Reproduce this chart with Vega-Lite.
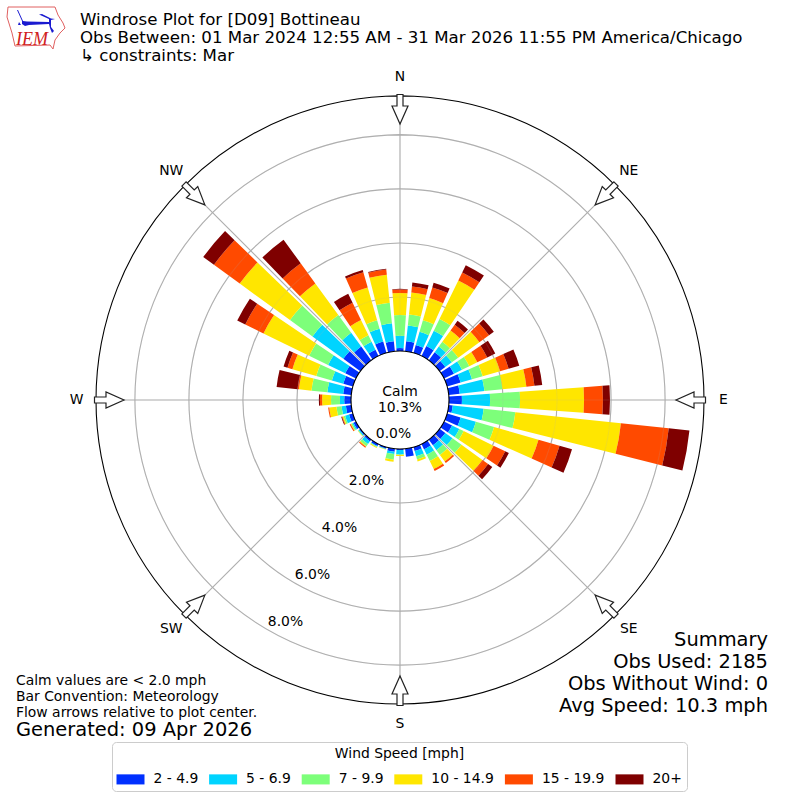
{
  "$schema": "https://vega.github.io/schema/vega-lite/v6.json",
  "width": 800,
  "height": 800,
  "padding": 0,
  "autosize": "none",
  "background": "white",
  "title": {
    "text": ["Windrose Plot for [D09] Bottineau", "Obs Between: 01 Mar 2024 12:55 AM - 31 Mar 2026 11:55 PM America/Chicago", "\u00a0↳ constraints: Mar"],
    "anchor": "start", "frame": "group", "dx": 80, "dy": 65, "offset": 0, "baseline": "top",
    "font": "DejaVu Sans", "fontSize": 16.65, "fontWeight": "normal", "lineHeight": 18, "color": "black"
  },
  "datasets": {
    "rings": [{"pct": 2}, {"pct": 4}, {"pct": 6}, {"pct": 8}],
    "compass": [
      {"dir": 0, "label": "N"}, {"dir": 45, "label": "NE"}, {"dir": 90, "label": "E"}, {"dir": 135, "label": "SE"},
      {"dir": 180, "label": "S"}, {"dir": 225, "label": "SW"}, {"dir": 270, "label": "W"}, {"dir": 315, "label": "NW"}
    ],
    "bars": [
      {"dir":0,"speed":"2 - 4.9","low":2,"pct":0.11},{"dir":0,"speed":"5 - 6.9","low":5,"pct":0.45},{"dir":0,"speed":"7 - 9.9","low":7,"pct":0.77},{"dir":0,"speed":"10 - 14.9","low":10,"pct":0.82},{"dir":0,"speed":"15 - 19.9","low":15,"pct":0.13},{"dir":0,"speed":"20+","low":20,"pct":0.02},
      {"dir":10,"speed":"2 - 4.9","low":2,"pct":0.37},{"dir":10,"speed":"5 - 6.9","low":5,"pct":0.59},{"dir":10,"speed":"7 - 9.9","low":7,"pct":0.41},{"dir":10,"speed":"10 - 14.9","low":10,"pct":0.82},{"dir":10,"speed":"15 - 19.9","low":15,"pct":0.22},{"dir":10,"speed":"20+","low":20,"pct":0.15},
      {"dir":20,"speed":"2 - 4.9","low":2,"pct":0.30},{"dir":20,"speed":"5 - 6.9","low":5,"pct":0.51},{"dir":20,"speed":"7 - 9.9","low":7,"pct":0.45},{"dir":20,"speed":"10 - 14.9","low":10,"pct":0.85},{"dir":20,"speed":"15 - 19.9","low":15,"pct":0.41},{"dir":20,"speed":"20+","low":20,"pct":0.18},
      {"dir":30,"speed":"2 - 4.9","low":2,"pct":0.41},{"dir":30,"speed":"5 - 6.9","low":5,"pct":0.63},{"dir":30,"speed":"7 - 9.9","low":7,"pct":0.48},{"dir":30,"speed":"10 - 14.9","low":10,"pct":1.59},{"dir":30,"speed":"15 - 19.9","low":15,"pct":0.33},{"dir":30,"speed":"20+","low":20,"pct":0.30},
      {"dir":40,"speed":"2 - 4.9","low":2,"pct":0.37},{"dir":40,"speed":"5 - 6.9","low":5,"pct":0.26},{"dir":40,"speed":"7 - 9.9","low":7,"pct":0.22},{"dir":40,"speed":"10 - 14.9","low":10,"pct":0.52},{"dir":40,"speed":"15 - 19.9","low":15,"pct":0.26},{"dir":40,"speed":"20+","low":20,"pct":0.18},
      {"dir":50,"speed":"2 - 4.9","low":2,"pct":0.26},{"dir":50,"speed":"5 - 6.9","low":5,"pct":0.30},{"dir":50,"speed":"7 - 9.9","low":7,"pct":0.29},{"dir":50,"speed":"10 - 14.9","low":10,"pct":0.97},{"dir":50,"speed":"15 - 19.9","low":15,"pct":0.44},{"dir":50,"speed":"20+","low":20,"pct":0.22},
      {"dir":60,"speed":"2 - 4.9","low":2,"pct":0.41},{"dir":60,"speed":"5 - 6.9","low":5,"pct":0.33},{"dir":60,"speed":"7 - 9.9","low":7,"pct":0.30},{"dir":60,"speed":"10 - 14.9","low":10,"pct":0.33},{"dir":60,"speed":"15 - 19.9","low":15,"pct":0.41},{"dir":60,"speed":"20+","low":20,"pct":0.33},
      {"dir":70,"speed":"2 - 4.9","low":2,"pct":0.52},{"dir":70,"speed":"5 - 6.9","low":5,"pct":0.44},{"dir":70,"speed":"7 - 9.9","low":7,"pct":0.41},{"dir":70,"speed":"10 - 14.9","low":10,"pct":0.67},{"dir":70,"speed":"15 - 19.9","low":15,"pct":0.33},{"dir":70,"speed":"20+","low":20,"pct":0.41},
      {"dir":80,"speed":"2 - 4.9","low":2,"pct":0.41},{"dir":80,"speed":"5 - 6.9","low":5,"pct":0.92},{"dir":80,"speed":"7 - 9.9","low":7,"pct":0.67},{"dir":80,"speed":"10 - 14.9","low":10,"pct":0.89},{"dir":80,"speed":"15 - 19.9","low":15,"pct":0.30},{"dir":80,"speed":"20+","low":20,"pct":0.29},
      {"dir":90,"speed":"2 - 4.9","low":2,"pct":0.48},{"dir":90,"speed":"5 - 6.9","low":5,"pct":1.04},{"dir":90,"speed":"7 - 9.9","low":7,"pct":1.11},{"dir":90,"speed":"10 - 14.9","low":10,"pct":2.37},{"dir":90,"speed":"15 - 19.9","low":15,"pct":0.70},{"dir":90,"speed":"20+","low":20,"pct":0.26},
      {"dir":100,"speed":"2 - 4.9","low":2,"pct":0.15},{"dir":100,"speed":"5 - 6.9","low":5,"pct":1.15},{"dir":100,"speed":"7 - 9.9","low":7,"pct":1.18},{"dir":100,"speed":"10 - 14.9","low":10,"pct":3.93},{"dir":100,"speed":"15 - 19.9","low":15,"pct":1.78},{"dir":100,"speed":"20+","low":20,"pct":0.77},
      {"dir":110,"speed":"2 - 4.9","low":2,"pct":0.52},{"dir":110,"speed":"5 - 6.9","low":5,"pct":0.59},{"dir":110,"speed":"7 - 9.9","low":7,"pct":0.70},{"dir":110,"speed":"10 - 14.9","low":10,"pct":1.71},{"dir":110,"speed":"15 - 19.9","low":15,"pct":0.81},{"dir":110,"speed":"20+","low":20,"pct":0.48},
      {"dir":120,"speed":"2 - 4.9","low":2,"pct":0.33},{"dir":120,"speed":"5 - 6.9","low":5,"pct":0.30},{"dir":120,"speed":"7 - 9.9","low":7,"pct":0.18},{"dir":120,"speed":"10 - 14.9","low":10,"pct":1.23},{"dir":120,"speed":"15 - 19.9","low":15,"pct":0.48},{"dir":120,"speed":"20+","low":20,"pct":0.15},
      {"dir":130,"speed":"2 - 4.9","low":2,"pct":0.26},{"dir":130,"speed":"5 - 6.9","low":5,"pct":0.33},{"dir":130,"speed":"7 - 9.9","low":7,"pct":0.41},{"dir":130,"speed":"10 - 14.9","low":10,"pct":0.96},{"dir":130,"speed":"15 - 19.9","low":15,"pct":0.26},{"dir":130,"speed":"20+","low":20,"pct":0.19},
      {"dir":140,"speed":"2 - 4.9","low":2,"pct":0.26},{"dir":140,"speed":"5 - 6.9","low":5,"pct":0.22},{"dir":140,"speed":"7 - 9.9","low":7,"pct":0.22},{"dir":140,"speed":"10 - 14.9","low":10,"pct":0.30},{"dir":140,"speed":"15 - 19.9","low":15,"pct":0.07},
      {"dir":150,"speed":"2 - 4.9","low":2,"pct":0.22},{"dir":150,"speed":"5 - 6.9","low":5,"pct":0.22},{"dir":150,"speed":"7 - 9.9","low":7,"pct":0.26},{"dir":150,"speed":"10 - 14.9","low":10,"pct":0.33},{"dir":150,"speed":"15 - 19.9","low":15,"pct":0.08},
      {"dir":160,"speed":"2 - 4.9","low":2,"pct":0.15},{"dir":160,"speed":"5 - 6.9","low":5,"pct":0.20},{"dir":160,"speed":"7 - 9.9","low":7,"pct":0.13},{"dir":160,"speed":"10 - 14.9","low":10,"pct":0.07},
      {"dir":170,"speed":"2 - 4.9","low":2,"pct":0.30},
      {"dir":180,"speed":"2 - 4.9","low":2,"pct":0.04},{"dir":180,"speed":"5 - 6.9","low":5,"pct":0.16},{"dir":180,"speed":"7 - 9.9","low":7,"pct":0.02},{"dir":180,"speed":"10 - 14.9","low":10,"pct":0.04},
      {"dir":190,"speed":"2 - 4.9","low":2,"pct":0.11},{"dir":190,"speed":"5 - 6.9","low":5,"pct":0.09},{"dir":190,"speed":"7 - 9.9","low":7,"pct":0.21},{"dir":190,"speed":"10 - 14.9","low":10,"pct":0.07},
      {"dir":200,"speed":"2 - 4.9","low":2,"pct":0.06},{"dir":200,"speed":"5 - 6.9","low":5,"pct":0.02},{"dir":200,"speed":"7 - 9.9","low":7,"pct":0.01},{"dir":200,"speed":"10 - 14.9","low":10,"pct":0.01},
      {"dir":210,"speed":"2 - 4.9","low":2,"pct":0.08},{"dir":210,"speed":"5 - 6.9","low":5,"pct":0.03},{"dir":210,"speed":"7 - 9.9","low":7,"pct":0.02},{"dir":210,"speed":"10 - 14.9","low":10,"pct":0.03},
      {"dir":220,"speed":"2 - 4.9","low":2,"pct":0.08},{"dir":220,"speed":"5 - 6.9","low":5,"pct":0.12},{"dir":220,"speed":"7 - 9.9","low":7,"pct":0.10},{"dir":220,"speed":"10 - 14.9","low":10,"pct":0.03},{"dir":220,"speed":"15 - 19.9","low":15,"pct":0.04},
      {"dir":230,"speed":"2 - 4.9","low":2,"pct":0.05},{"dir":230,"speed":"5 - 6.9","low":5,"pct":0.04},{"dir":230,"speed":"7 - 9.9","low":7,"pct":0.02},{"dir":230,"speed":"10 - 14.9","low":10,"pct":0.01},
      {"dir":240,"speed":"2 - 4.9","low":2,"pct":0.10},{"dir":240,"speed":"5 - 6.9","low":5,"pct":0.05},{"dir":240,"speed":"7 - 9.9","low":7,"pct":0.05},{"dir":240,"speed":"10 - 14.9","low":10,"pct":0.02},{"dir":240,"speed":"15 - 19.9","low":15,"pct":0.04},
      {"dir":250,"speed":"2 - 4.9","low":2,"pct":0.15},{"dir":250,"speed":"5 - 6.9","low":5,"pct":0.15},{"dir":250,"speed":"7 - 9.9","low":7,"pct":0.06},{"dir":250,"speed":"10 - 14.9","low":10,"pct":0.04},{"dir":250,"speed":"15 - 19.9","low":15,"pct":0.02},{"dir":250,"speed":"20+","low":20,"pct":0.03},
      {"dir":260,"speed":"2 - 4.9","low":2,"pct":0.20},{"dir":260,"speed":"5 - 6.9","low":5,"pct":0.16},{"dir":260,"speed":"7 - 9.9","low":7,"pct":0.19},{"dir":260,"speed":"10 - 14.9","low":10,"pct":0.27},{"dir":260,"speed":"15 - 19.9","low":15,"pct":0.04},
      {"dir":270,"speed":"2 - 4.9","low":2,"pct":0.25},{"dir":270,"speed":"5 - 6.9","low":5,"pct":0.16},{"dir":270,"speed":"7 - 9.9","low":7,"pct":0.33},{"dir":270,"speed":"10 - 14.9","low":10,"pct":0.33},{"dir":270,"speed":"15 - 19.9","low":15,"pct":0.08},{"dir":270,"speed":"20+","low":20,"pct":0.04},
      {"dir":280,"speed":"2 - 4.9","low":2,"pct":0.30},{"dir":280,"speed":"5 - 6.9","low":5,"pct":0.59},{"dir":280,"speed":"7 - 9.9","low":7,"pct":0.59},{"dir":280,"speed":"10 - 14.9","low":10,"pct":0.47},{"dir":280,"speed":"15 - 19.9","low":15,"pct":0.05},{"dir":280,"speed":"20+","low":20,"pct":0.78},
      {"dir":290,"speed":"2 - 4.9","low":2,"pct":0.37},{"dir":290,"speed":"5 - 6.9","low":5,"pct":0.44},{"dir":290,"speed":"7 - 9.9","low":7,"pct":0.60},{"dir":290,"speed":"10 - 14.9","low":10,"pct":0.92},{"dir":290,"speed":"15 - 19.9","low":15,"pct":0.19},{"dir":290,"speed":"20+","low":20,"pct":0.15},
      {"dir":300,"speed":"2 - 4.9","low":2,"pct":0.44},{"dir":300,"speed":"5 - 6.9","low":5,"pct":0.71},{"dir":300,"speed":"7 - 9.9","low":7,"pct":0.78},{"dir":300,"speed":"10 - 14.9","low":10,"pct":1.88},{"dir":300,"speed":"15 - 19.9","low":15,"pct":0.75},{"dir":300,"speed":"20+","low":20,"pct":0.33},
      {"dir":310,"speed":"2 - 4.9","low":2,"pct":0.78},{"dir":310,"speed":"5 - 6.9","low":5,"pct":1.41},{"dir":310,"speed":"7 - 9.9","low":7,"pct":1.03},{"dir":310,"speed":"10 - 14.9","low":10,"pct":2.30},{"dir":310,"speed":"15 - 19.9","low":15,"pct":1.18},{"dir":310,"speed":"20+","low":20,"pct":0.49},
      {"dir":320,"speed":"2 - 4.9","low":2,"pct":0.63},{"dir":320,"speed":"5 - 6.9","low":5,"pct":0.63},{"dir":320,"speed":"7 - 9.9","low":7,"pct":0.81},{"dir":320,"speed":"10 - 14.9","low":10,"pct":1.45},{"dir":320,"speed":"15 - 19.9","low":15,"pct":0.92},{"dir":320,"speed":"20+","low":20,"pct":1.08},
      {"dir":330,"speed":"2 - 4.9","low":2,"pct":0.26},{"dir":330,"speed":"5 - 6.9","low":5,"pct":0.33},{"dir":330,"speed":"7 - 9.9","low":7,"pct":0.26},{"dir":330,"speed":"10 - 14.9","low":10,"pct":0.63},{"dir":330,"speed":"15 - 19.9","low":15,"pct":0.71},{"dir":330,"speed":"20+","low":20,"pct":0.37},
      {"dir":340,"speed":"2 - 4.9","low":2,"pct":0.44},{"dir":340,"speed":"5 - 6.9","low":5,"pct":0.49},{"dir":340,"speed":"7 - 9.9","low":7,"pct":0.33},{"dir":340,"speed":"10 - 14.9","low":10,"pct":1.26},{"dir":340,"speed":"15 - 19.9","low":15,"pct":0.59},{"dir":340,"speed":"20+","low":20,"pct":0.08},
      {"dir":350,"speed":"2 - 4.9","low":2,"pct":0.37},{"dir":350,"speed":"5 - 6.9","low":5,"pct":0.67},{"dir":350,"speed":"7 - 9.9","low":7,"pct":0.77},{"dir":350,"speed":"10 - 14.9","low":10,"pct":1.04},{"dir":350,"speed":"15 - 19.9","low":15,"pct":0.19},{"dir":350,"speed":"20+","low":20,"pct":0.03}
    ]
  },
  "layer": [
    {
      "data": {"name": "rings"},
      "mark": {"type": "arc", "filled": false, "stroke": "#b0b0b0", "strokeWidth": 1.1, "theta": 0, "theta2": 6.2832},
      "encoding": {
        "radius": {"field": "pct", "type": "quantitative", "scale": {"type": "linear", "domain": [0, 9.44], "range": [49, 304], "zero": false, "nice": false}},
        "radius2": {"field": "pct"}
      }
    },
    {
      "data": {"name": "compass"},
      "mark": {"type": "arc", "filled": false, "stroke": "#b0b0b0", "strokeWidth": 1.1},
      "encoding": {
        "theta": {"field": "dir", "type": "quantitative", "scale": {"domain": [0, 360], "range": [0, 6.2832], "zero": false, "nice": false}},
        "theta2": {"field": "dir"},
        "radius": {"value": 304},
        "radius2": {"value": 49}
      }
    },
    {
      "data": {"name": "bars"},
      "transform": [
        {"stack": "pct", "groupby": ["dir"], "sort": [{"field": "low", "order": "ascending"}], "as": ["lo", "hi"]},
        {"calculate": "datum.dir - 4", "as": "start"},
        {"calculate": "datum.dir + 4", "as": "end"}
      ],
      "mark": {"type": "arc", "stroke": null},
      "encoding": {
        "theta": {"field": "start", "type": "quantitative", "scale": {"domain": [0, 360], "range": [0, 6.2832], "zero": false, "nice": false}},
        "theta2": {"field": "end"},
        "radius": {"field": "hi", "type": "quantitative", "scale": {"type": "linear", "domain": [0, 9.44], "range": [49, 304], "zero": false, "nice": false}},
        "radius2": {"field": "lo"},
        "color": {
          "field": "speed", "type": "nominal",
          "scale": {"domain": ["2 - 4.9", "5 - 6.9", "7 - 9.9", "10 - 14.9", "15 - 19.9", "20+"], "range": ["#0030ff", "#00d4ff", "#7dff7a", "#ffe600", "#ff4a00", "#7f0000"]},
          "legend": {
            "title": "Wind Speed [mph]", "orient": "none", "legendX": 112, "legendY": 742,
            "direction": "horizontal", "columns": 6, "gridAlign": "none", "columnPadding": 10.6,
            "titleAnchor": "middle", "titleFont": "DejaVu Sans", "titleFontSize": 13.9, "titleFontWeight": "normal", "titleColor": "black", "titlePadding": 5,
            "labelFont": "DejaVu Sans", "labelFontSize": 13.9, "labelColor": "black", "labelOffset": 9,
            "symbolType": "M-1,-0.36H1V0.36H-1Z", "symbolSize": 784, "symbolStrokeWidth": 0,
            "strokeColor": "#cccccc", "fillColor": "white", "cornerRadius": 4, "padding": 4.5
          }
        }
      }
    },
    {
      "data": {"name": "rings"},
      "mark": {"type": "arc", "filled": false, "stroke": "#b0b0b0", "strokeOpacity": 0.15, "strokeWidth": 1.1, "theta": 0, "theta2": 6.2832},
      "encoding": {
        "radius": {"field": "pct", "type": "quantitative", "scale": {"type": "linear", "domain": [0, 9.44], "range": [49, 304], "zero": false, "nice": false}},
        "radius2": {"field": "pct"}
      }
    },
    {
      "data": {"name": "compass"},
      "mark": {"type": "arc", "filled": false, "stroke": "#b0b0b0", "strokeOpacity": 0.15, "strokeWidth": 1.1},
      "encoding": {
        "theta": {"field": "dir", "type": "quantitative", "scale": {"domain": [0, 360], "range": [0, 6.2832], "zero": false, "nice": false}},
        "theta2": {"field": "dir"},
        "radius": {"value": 304},
        "radius2": {"value": 49}
      }
    },
    {
      "data": {"values": [{"pct": 9.44}]},
      "mark": {"type": "arc", "filled": false, "stroke": "black", "strokeWidth": 1.1, "theta": 0, "theta2": 6.2832},
      "encoding": {
        "radius": {"field": "pct", "type": "quantitative", "scale": {"type": "linear", "domain": [0, 9.44], "range": [49, 304], "zero": false, "nice": false}},
        "radius2": {"field": "pct"}
      }
    },
    {
      "data": {"values": [{"pct": 0}]},
      "mark": {"type": "arc", "fill": "white", "stroke": "black", "strokeWidth": 1.1, "theta": 0, "theta2": 6.2832},
      "encoding": {
        "radius": {"field": "pct", "type": "quantitative", "scale": {"type": "linear", "domain": [0, 9.44], "range": [49, 304], "zero": false, "nice": false}},
        "radius2": {"value": 0}
      }
    },
    {
      "data": {"name": "compass"},
      "mark": {
        "type": "point", "filled": true, "fill": "white", "stroke": "#222222", "strokeWidth": 1.2, "opacity": 1, "size": 4,
        "shape": "M-3,-305.5L3,-305.5L3,-294L8,-294L0,-276L-8,-294L-3,-294Z"
      },
      "encoding": {
        "x": {"value": 400},
        "y": {"value": 400},
        "angle": {"field": "dir", "type": "quantitative", "scale": null}
      }
    },
    {
      "data": {"name": "compass"},
      "mark": {"type": "text", "font": "DejaVu Sans", "fontSize": 13.9, "color": "black", "align": "center", "baseline": "middle"},
      "encoding": {
        "theta": {"field": "dir", "type": "quantitative", "scale": {"domain": [0, 360], "range": [0, 6.2832], "zero": false, "nice": false}},
        "radius": {"value": 323.5},
        "text": {"field": "label"}
      }
    },
    {
      "data": {"values": [{"pct": 0, "label": "0.0%"}, {"pct": 2, "label": "2.0%"}, {"pct": 4, "label": "4.0%"}, {"pct": 6, "label": "6.0%"}, {"pct": 8, "label": "8.0%"}]},
      "mark": {"type": "text", "font": "DejaVu Sans", "fontSize": 13.9, "color": "black", "align": "center", "baseline": "middle", "dx": 18, "dy": -8, "theta": 3.6652},
      "encoding": {
        "radius": {"field": "pct", "type": "quantitative", "scale": {"type": "linear", "domain": [0, 9.44], "range": [49, 304], "zero": false, "nice": false}},
        "text": {"field": "label"}
      }
    },
    {
      "data": {"values": [{"text": "Calm\n10.3%"}]},
      "mark": {"type": "text", "font": "DejaVu Sans", "fontSize": 13.9, "color": "black", "align": "center", "baseline": "middle", "lineBreak": "\n", "lineHeight": 16},
      "encoding": {"x": {"value": 400}, "y": {"value": 392}, "text": {"field": "text"}}
    },
    {
      "data": {"values": [{"text": "Summary\nObs Used: 2185\nObs Without Wind: 0\nAvg Speed: 10.3 mph"}]},
      "mark": {"type": "text", "font": "DejaVu Sans", "fontSize": 19.45, "color": "black", "align": "right", "baseline": "alphabetic", "lineBreak": "\n", "lineHeight": 22},
      "encoding": {"x": {"value": 768}, "y": {"value": 646}, "text": {"field": "text"}}
    },
    {
      "data": {"values": [{"text": "Calm values are < 2.0 mph\nBar Convention: Meteorology\nFlow arrows relative to plot center."}]},
      "mark": {"type": "text", "font": "DejaVu Sans", "fontSize": 13.9, "color": "black", "align": "left", "baseline": "alphabetic", "lineBreak": "\n", "lineHeight": 16},
      "encoding": {"x": {"value": 16}, "y": {"value": 685}, "text": {"field": "text"}}
    },
    {
      "data": {"values": [{"text": "Generated: 09 Apr 2026"}]},
      "mark": {"type": "text", "font": "DejaVu Sans", "fontSize": 19.45, "color": "black", "align": "left", "baseline": "alphabetic"},
      "encoding": {"x": {"value": 16}, "y": {"value": 736}, "text": {"field": "text"}}
    },
    {
      "data": {"values": [{"part": "Iowa outline"}]},
      "mark": {
        "type": "point", "filled": false, "stroke": "#e06060", "strokeWidth": 1, "opacity": 1, "size": 4,
        "shape": "M8,7L55,7L58,15L63,23L65,28L60,33L55,40L53,49L50,45L15,46L12,33L7,17Z"
      },
      "encoding": {"x": {"value": 0}, "y": {"value": 0}}
    },
    {
      "data": {"values": [{"part": "station model"}]},
      "mark": {
        "type": "point", "filled": true, "fill": "#1a1ad0", "strokeWidth": 0, "opacity": 1, "size": 4,
        "shape": "M17,10L18,10L23,21L27,21.5L49,22L49,19L39,14.5L42,14L51,18.5L55,19L51,20L51,27L54,31L52,33L50,28L49,24L29,25L25,26L22,24L22,21ZM19,22L21,25L18,25Z"
      },
      "encoding": {"x": {"value": 0}, "y": {"value": 0}}
    },
    {
      "data": {"values": [{"text": "IEM"}]},
      "mark": {"type": "text", "font": "Liberation Serif", "fontStyle": "italic", "fontSize": 18, "color": "#d02020", "align": "left", "baseline": "alphabetic"},
      "encoding": {"x": {"value": 16}, "y": {"value": 45}, "text": {"field": "text"}}
    }
  ],
  "config": {"view": {"stroke": null}}
}
